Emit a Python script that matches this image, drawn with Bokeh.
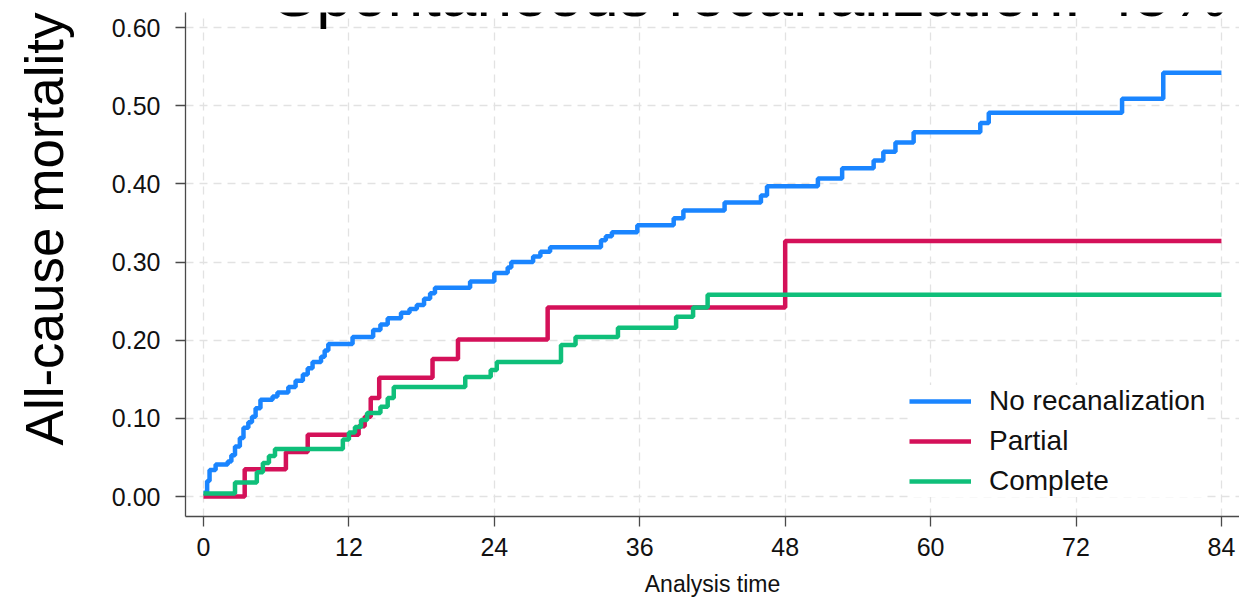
import math
from bokeh.plotting import figure
from bokeh.models import Range1d, FixedTicker, Legend, LegendItem, Label, Title
from bokeh.embed import file_html
from bokeh.resources import INLINE

# ---- data ----
title_text = "Spontaneous recanalization: 45%"
y_label = "All-cause mortality"
x_label = "Analysis time"

series_names = ["No recanalization", "Partial", "Complete"]
series_colors = ["#1A85FF", "#D41159", "#0FBF7A"]

t_none = [0, 0.3, 0.5, 1.0, 2.0, 2.3, 2.6, 3.0, 3.3, 3.7, 4.0, 4.3, 4.7, 5.7, 6.1, 7.0,
          7.6, 8.2, 8.6, 9.0, 9.7, 10.0, 10.3, 12.3, 14.0, 14.6, 15.2, 16.3, 17.0, 17.6,
          18.2, 18.7, 19.1, 22.0, 24.0, 25.1, 25.4, 27.2, 27.8, 28.6, 32.8, 33.2, 33.7,
          35.8, 38.8, 39.6, 43.0, 46.0, 46.5, 50.7, 52.7, 55.3, 56.1, 57.1, 58.6, 64.1,
          64.8, 75.8, 79.2, 84]
v_none = [0.005, 0.020, 0.034, 0.041, 0.045, 0.053, 0.064, 0.075, 0.088, 0.095, 0.102,
          0.113, 0.124, 0.128, 0.133, 0.140, 0.148, 0.156, 0.164, 0.172, 0.179, 0.187,
          0.195, 0.204, 0.213, 0.220, 0.228, 0.235, 0.240, 0.245, 0.253, 0.260, 0.267,
          0.275, 0.286, 0.293, 0.300, 0.307, 0.313, 0.319, 0.328, 0.333, 0.338, 0.347,
          0.356, 0.366, 0.376, 0.385, 0.397, 0.407, 0.420, 0.430, 0.441, 0.453, 0.466,
          0.478, 0.491, 0.509, 0.542, 0.542]

t_partial = [0, 3.4, 6.8, 8.6, 12.8, 13.3, 13.8, 14.5, 18.9, 21.0, 28.4, 48.0, 84]
v_partial = [0.0, 0.035, 0.057, 0.079, 0.090, 0.102, 0.126, 0.152, 0.176, 0.201, 0.242,
             0.327, 0.327]

t_complete = [0, 2.6, 4.4, 4.9, 5.4, 5.9, 11.5, 12.0, 12.5, 13.0, 13.5, 14.6, 15.2, 15.7,
              21.6, 23.7, 24.2, 29.5, 30.7, 34.2, 39.0, 40.4, 41.6, 84]
v_complete = [0.004, 0.018, 0.031, 0.043, 0.052, 0.061, 0.073, 0.082, 0.089, 0.098, 0.107,
              0.115, 0.126, 0.140, 0.153, 0.162, 0.172, 0.194, 0.204, 0.216, 0.230, 0.242,
              0.258, 0.258]

x_ticks = [0, 12, 24, 36, 48, 60, 72, 84]
y_ticks = [0.0, 0.1, 0.2, 0.3, 0.4, 0.5, 0.6]
y_tick_labels = ["0.00", "0.10", "0.20", "0.30", "0.40", "0.50", "0.60"]

FONT = "Liberation Sans"

p = figure(width=1239, height=599, output_backend="svg", toolbar_location=None,
           x_range=Range1d(-1.485, 85.49), y_range=Range1d(-0.0255, 0.6192),
           min_border_left=185, min_border_top=12, min_border_right=0,
           min_border_bottom=82)
p.outline_line_color = None
p.background_fill_color = "white"
p.border_fill_color = "white"

# axes
for ax in (p.xaxis[0], p.yaxis[0]):
    ax.axis_line_color = "#4a4a4a"
    ax.axis_line_width = 1.3
    ax.major_tick_line_color = "#4a4a4a"
    ax.major_tick_line_width = 1.3
    ax.major_tick_out = 10
    ax.major_tick_in = 0
    ax.minor_tick_out = 0
    ax.minor_tick_in = 0
    ax.major_label_text_font = FONT
    ax.major_label_text_color = "#111111"

p.xaxis.ticker = FixedTicker(ticks=x_ticks)
p.yaxis.ticker = FixedTicker(ticks=y_ticks)
p.yaxis.major_label_overrides = {t: s for t, s in zip(y_ticks, y_tick_labels)}
p.xaxis.major_label_overrides = {t: str(t) for t in x_ticks}
p.yaxis.major_label_text_font_size = "25px"
p.xaxis.major_label_text_font_size = "25px"
p.yaxis.major_label_standoff = 15
p.xaxis.major_label_standoff = 11

# blank spacer label on the y axis (pushes the rotated title outward)
p.yaxis.axis_label = " "
p.yaxis.axis_label_text_font_size = "1px"
p.yaxis.axis_label_standoff = 19

p.xaxis.axis_label = x_label
p.xaxis.axis_label_text_font = FONT
p.xaxis.axis_label_text_font_size = "23px"
p.xaxis.axis_label_text_font_style = "normal"
p.xaxis.axis_label_text_color = "#111111"
p.xaxis.axis_label_standoff = 12

# grid
for g in (p.xgrid[0], p.ygrid[0]):
    g.grid_line_color = "#e2e2e2"
    g.grid_line_dash = "8 6"
    g.grid_line_width = 1.3
p.xgrid.ticker = FixedTicker(ticks=x_ticks)
p.ygrid.ticker = FixedTicker(ticks=y_ticks)

# series
renderers = []
for t, v, c in [(t_none, v_none, series_colors[0]),
                (t_partial, v_partial, series_colors[1]),
                (t_complete, v_complete, series_colors[2])]:
    r = p.step(t, v, mode="after", line_color=c, line_width=4.5)
    renderers.append(r)

legend = Legend(items=[LegendItem(label=n, renderers=[r]) for n, r in zip(series_names, renderers)],
                location=(724, 19), border_line_color=None,
                background_fill_color="white", background_fill_alpha=1.0,
                glyph_width=62, glyph_height=32, label_height=32, label_standoff=18,
                spacing=8, padding=12, margin=0,
                label_text_font=FONT, label_text_font_size="28px",
                label_text_color="#111111")
p.add_layout(legend)

# rotated y-axis title in the left panel, aligned to the top end
p.add_layout(Title(text=y_label, align="right", offset=0, standoff=23,
                   text_font=FONT, text_font_size="53px", text_font_style="normal",
                   text_color="black"), "left")

# chart title, cut off by the top edge as in the reference
p.add_layout(Label(x=5.78, y=0.6427, text=title_text, text_align="left",
                   text_baseline="alphabetic", text_font=FONT,
                   text_font_size="64px", text_color="black"))

open("out.html", "w").write(file_html(p, INLINE))
